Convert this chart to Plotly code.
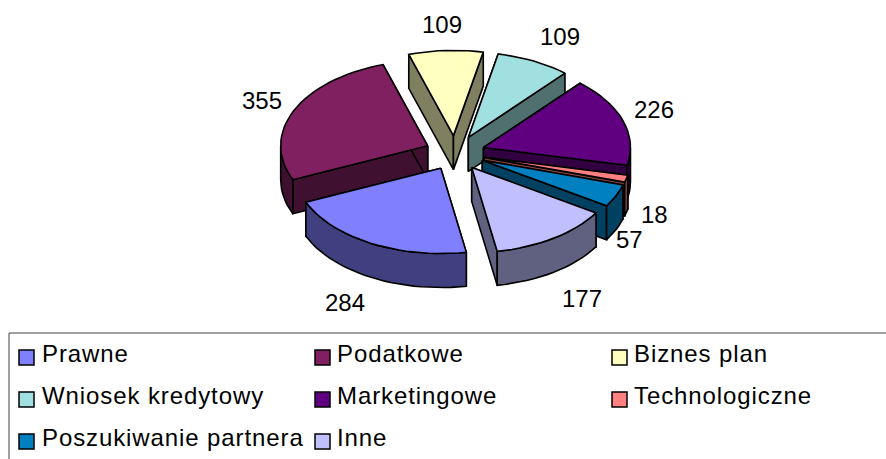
import math
import plotly.graph_objects as go

categories = ["Prawne", "Podatkowe", "Biznes plan", "Wniosek kredytowy",
              "Marketingowe", "Technologiczne", "Poszukiwanie partnera", "Inne"]
values = [284, 355, 109, 109, 226, 18, 57, 177]
colors = ["#8080FF", "#802060", "#FFFFC0", "#A0E0E0",
          "#600080", "#FF8080", "#0080C0", "#C0C0FF"]
wall_colors = ["#404080", "#401030", "#808060", "#507070",
               "#300040", "#804040", "#004060", "#606080"]

# pie projection (pixel space of the hidden axes)
START = 170.0
CX, CY, R, K, EXPL, DEPTH = 455, 153, 147, 0.58, 30, 34
STEP = 3.0
FONT = "Liberation Sans"
FS = 24
DRAW_ORDER = [1, 2, 3, 4, 5, 6, 7, 0]
LABEL_NUDGE = [(-26, 59), (-32, -10), (-4, -26), (26, -25),
               (31, -11), (28, 36), (14, 44), (28, 60)]
LEG_COLS = [(19, 39.5), (315, 334.5), (612, 631.5)]
LEG_ROWS = [353.5, 395.5, 437.5]


def proj(a, r, ox=0, oy=0, drop=0):
    t = math.radians(a)
    return (CX + ox + r * math.sin(t), CY + oy - K * r * math.cos(t) + drop)


def arc(a0, a1):
    n = max(1, int(math.ceil((a1 - a0) / STEP)))
    return [a0 + (a1 - a0) * i / n for i in range(n + 1)]


fig = go.Figure()


def poly(pts, fill, name=None, lw=1.6):
    xs = [p[0] for p in pts] + [pts[0][0]]
    ys = [p[1] for p in pts] + [pts[0][1]]
    fig.add_trace(go.Scatter(x=xs, y=ys, mode="lines", fill="toself", fillcolor=fill,
                             line=dict(color="black", width=lw), showlegend=False,
                             hoverinfo="text" if name else "skip", text=name, name=name or ""))


total = sum(values)
spans = []
a = START
for v in values:
    a0 = a % 360
    spans.append((a0, a0 + v / total * 360))
    a += v / total * 360

annots = []
for i in DRAW_ORDER:
    a0, a1 = spans[i]
    mid = (a0 + a1) / 2
    t = math.radians(mid)
    ox, oy = EXPL * math.sin(t), -K * EXPL * math.cos(t)
    apex = proj(0, 0, ox, oy)
    apex_d = proj(0, 0, ox, oy, DEPTH)
    # radial walls
    for e in (a0, a1):
        p, q = proj(e, R, ox, oy), proj(e, R, ox, oy, DEPTH)
        poly([apex, p, q, apex_d], wall_colors[i])
    # outer wall, front half only
    lo, hi = max(a0, 90), min(a1, 270)
    if hi > lo:
        rim = arc(lo, hi)
        poly([proj(x, R, ox, oy) for x in rim] +
             [proj(x, R, ox, oy, DEPTH) for x in reversed(rim)], wall_colors[i])
    # top
    poly([apex] + [proj(x, R, ox, oy) for x in arc(a0, a1)], colors[i], categories[i])

for i, v in enumerate(values):
    a0, a1 = spans[i]
    mid = (a0 + a1) / 2
    lx, ly = proj(mid, R + EXPL)
    annots.append(dict(x=lx + LABEL_NUDGE[i][0], y=ly + LABEL_NUDGE[i][1], text=str(v),
                       showarrow=False, xanchor="center", yanchor="middle",
                       font=dict(family=FONT, size=FS, color="black")))

shapes = [dict(type="rect", x0=9, x1=900, y0=333, y1=480,
               line=dict(color="#404040", width=1), fillcolor="rgba(0,0,0,0)", layer="below")]
for i, c in enumerate(categories):
    sx, tx = LEG_COLS[i % 3]
    yy = LEG_ROWS[i // 3]
    shapes.append(dict(type="rect", x0=sx, x1=sx + 15, y0=yy - 3.5, y1=yy + 11.5,
                       fillcolor=colors[i], line=dict(color="black", width=1.5)))
    annots.append(dict(x=tx, y=yy, text=c, showarrow=False, xanchor="left", yanchor="middle",
                       align="left", font=dict(family=FONT, size=FS, color="black")))

fig.update_layout(
    width=886, height=459, margin=dict(l=0, r=0, t=0, b=0),
    paper_bgcolor="white", plot_bgcolor="white", showlegend=False,
    xaxis=dict(range=[0, 886], visible=False, fixedrange=True),
    yaxis=dict(range=[459, 0], visible=False, fixedrange=True),
    annotations=annots, shapes=shapes,
)
POST = """
document.body.style.margin = '0';
document.querySelectorAll('.annotation-text').forEach(function (t) {
  if (!/^[0-9]+$/.test(t.textContent)) { t.style.letterSpacing = '0.9px'; }
});
"""
fig.write_html("out.html", config=dict(displayModeBar=False), post_script=POST)
